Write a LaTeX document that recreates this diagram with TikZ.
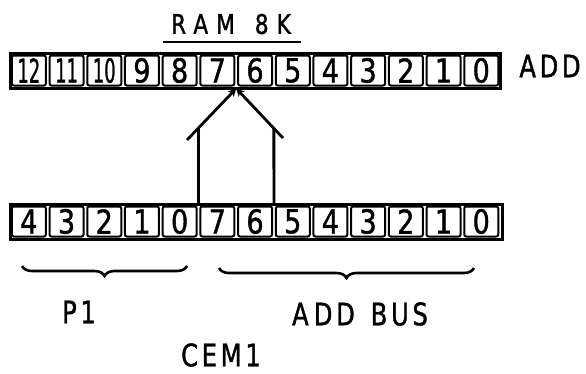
\documentclass[tikz,border=0pt]{standalone}
\usepackage{fontspec}
\usepackage{graphicx}
\setmainfont{DejaVu Sans}
\newfontfamily\digfont[FakeStretch=0.82, FakeBold=1.2]{DejaVu Sans}
\newfontfamily\lblfont[FakeStretch=0.78, FakeBold=1.2, LetterSpace=12]{DejaVu Sans}
\newfontfamily\titfont[FakeStretch=0.8, FakeBold=1.2, LetterSpace=30]{DejaVu Sans}
\usetikzlibrary{calc,arrows.meta,decorations.pathreplacing}

\begin{document}
\begin{tikzpicture}[x=1pt,y=-1pt,
	cell/.style={draw, line width=2pt, rounded corners=2pt, minimum width=34pt,
		minimum height=30pt, inner sep=0pt, font=\fontsize{33}{33}\digfont},
	rowframe/.style={draw, line width=3pt},
	label/.style={inner sep=0pt, font=\fontsize{31}{31}\lblfont},
	bus/.style={line width=2.8pt},
	bracket/.style={line width=2.6pt, decorate, decoration={brace, mirror, amplitude=10pt}}]

	\useasboundingbox (0,0) rectangle (586,373);

	\def\pitch{37.7}
	\def\xstart{10}

	% ---- top row (RAM address)

	\node[inner sep=0pt, font=\fontsize{27}{27}\titfont] (ram) at (231,24) {RAM\hspace{20pt}8K};
	\draw[line width=2.4pt] (163,42) -- (301,42);

	\draw[rowframe] (\xstart,53) rectangle (500,88);
	\foreach \lab [count=\i] in {12,11,10,9,8,7,6,5,4,3,2,1,0} {
		\node[cell] (t\i) at ({\xstart+\pitch*(\i-0.5)},70.5)
			{\ifnum\lab>9 \scalebox{0.66}[1]{\lab}\else\lab\fi};
	}
	\node[label] (add) at (550,66) {ADD};

	% ---- bottom row (CEM1)

	\draw[rowframe] (\xstart,204) rectangle (502,239);
	\foreach \lab [count=\i] in {4,3,2,1,0,7,6,5,4,3,2,1,0} {
		\node[cell] (b\i) at ({\xstart+\pitch*(\i-0.5)},221.5) {\lab};
	}

	% ---- connections

	\coordinate (apex) at ($(t6.south east)!0.5!(t7.south west)+(0,2)$);
	\coordinate (lft) at ($(b5.north east)!0.5!(b6.north west)+(0,-2)$);
	\coordinate (rgt) at ($(b7.north east)!0.5!(b8.north west)+(0,-2)$);
	\coordinate (lh) at (187,140);
	\coordinate (rh) at (283,138);

	\draw[bus] (lft) -- (intersection of lft--{$(lft)+(0,-100)$} and apex--lh);
	\draw[bus] (rgt) -- (intersection of rgt--{$(rgt)+(0,-100)$} and apex--rh);
	\draw[bus, -{Stealth[length=8pt,width=8pt]}] (lh) -- (apex);
	\draw[bus, -{Stealth[length=8pt,width=8pt]}] (rh) -- (apex);

	% ---- groups

	\draw[bracket] (22,266) -- (187,266);
	\draw[bracket] (219,268) -- (474,268);

	\node[label] (p1) at (79,312) {P1};
	\node[label] (addbus) at (360,314) {A\,DD\hspace{16pt}BUS};
	\node[label] (cem) at (221,355) {CEM1};

\end{tikzpicture}
\end{document}
